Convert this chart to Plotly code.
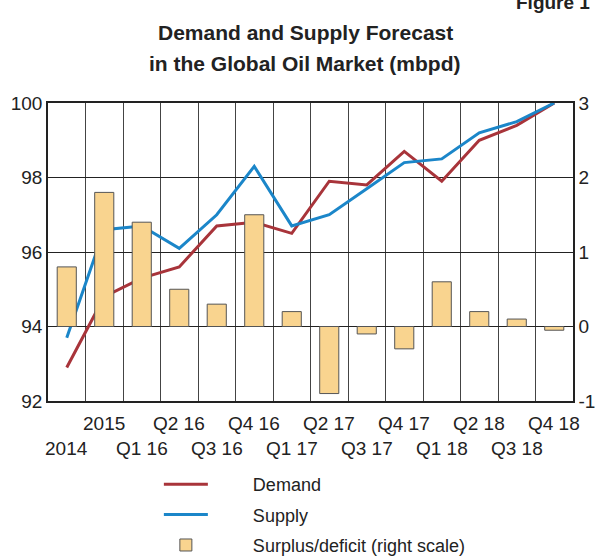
import plotly.graph_objects as go

# quarters / years on the x axis
periods = ['2014', '2015', 'Q1 16', 'Q2 16', 'Q3 16', 'Q4 16', 'Q1 17',
           'Q2 17', 'Q3 17', 'Q4 17', 'Q1 18', 'Q2 18', 'Q3 18', 'Q4 18']

demand = [92.9, 94.8, 95.3, 95.6, 96.7, 96.8, 96.5,
          97.9, 97.8, 98.7, 97.9, 99.0, 99.4, 100.0]
supply = [93.7, 96.6, 96.7, 96.1, 97.0, 98.3, 96.7,
          97.0, 97.7, 98.4, 98.5, 99.2, 99.5, 100.0]
balance = [0.8, 1.8, 1.4, 0.5, 0.3, 1.5, 0.2,
           -0.9, -0.1, -0.3, 0.6, 0.2, 0.1, -0.05]

left_ticks = [92, 94, 96, 98, 100]
right_ticks = [-1, 0, 1, 2, 3]
right_labels = ['-1', '0', '1', '2', '3']

RED = '#a8343a'
BLUE = '#1b86c9'
SAND = '#f9d48f'
INK = '#222222'
FONT = 'Liberation Sans Narrow, Liberation Sans, Arial, sans-serif'
PAD = '\u00a0' * 8  # pushes legend text away from the short symbol

fig = go.Figure()

# surplus / deficit bars on the right scale
fig.add_trace(go.Bar(
    x=periods, y=balance, yaxis='y2', name=PAD + 'Surplus/deficit (right scale)',
    marker=dict(color=SAND, line=dict(color='#555555', width=1)),
    width=0.51, legendrank=3, legendgroup='c',
))
fig.add_trace(go.Scatter(
    x=periods, y=demand, mode='lines', name=PAD + 'Demand',
    line=dict(color=RED, width=3), legendrank=1, legendgroup='a',
))
fig.add_trace(go.Scatter(
    x=periods, y=supply, mode='lines', name=PAD + 'Supply',
    line=dict(color=BLUE, width=3), legendrank=2, legendgroup='b',
))

# two-row category labels (alternating), placed by category index
for i, p in enumerate(periods):
    fig.add_annotation(
        x=i, xref='x', yref='paper', y=-0.074 if i % 2 else -0.161,
        text=p, showarrow=False, yanchor='middle',
        font=dict(size=19, color=INK, family=FONT),
    )

# two-line title
fig.add_annotation(
    text='<b>Demand and Supply Forecast</b>', xref='paper', yref='paper',
    x=0.49, y=1.238, xanchor='center', yanchor='middle', showarrow=False,
    font=dict(size=21, color=INK, family=FONT),
)
fig.add_annotation(
    text='<b>in the Global Oil Market (mbpd)</b>', xref='paper', yref='paper',
    x=0.49, y=1.134, xanchor='center', yanchor='middle', showarrow=False,
    font=dict(size=21, color=INK, family=FONT),
)

# page label in the top-right corner, partly cut off
fig.add_annotation(
    text='<b>Figure 1</b>', xref='paper', yref='paper', x=1.036, y=1.295,
    xanchor='right', yanchor='bottom', showarrow=False,
    font=dict(size=19, color=INK, family=FONT),
)

fig.update_layout(
    width=595, height=557,
    margin=dict(l=48, r=22, t=103, b=156, autoexpand=False),
    paper_bgcolor='white', plot_bgcolor='white',
    font=dict(family=FONT, color=INK, size=19),
    xaxis=dict(
        type='category', tickson='boundaries', showticklabels=False,
        showgrid=True, gridcolor='#444444', gridwidth=1,
        showline=True, linecolor=INK, linewidth=1.5, mirror=True,
        ticks='', range=[-0.5, 13.5], automargin=False,
    ),
    yaxis=dict(
        range=[92, 100], tickvals=left_ticks, showgrid=True,
        gridcolor=INK, gridwidth=1.3, zeroline=False,
        showline=True, linecolor=INK, linewidth=1.5, mirror=True,
        ticks='', automargin=False,
    ),
    yaxis2=dict(
        range=[-1, 3], tickvals=right_ticks, ticktext=right_labels,
        overlaying='y', side='right',
        showgrid=False, zeroline=False, showline=True,
        linecolor=INK, linewidth=1.5, ticks='', automargin=False,
    ),
    showlegend=True,
    legend=dict(
        orientation='v', xref='container', yref='container',
        x=0.267, xanchor='left', y=0.1634, yanchor='top',
        font=dict(size=18, family=FONT, color=INK),
        itemwidth=44, bgcolor='rgba(0,0,0,0)',
        traceorder='grouped', tracegroupgap=4,
    ),
)

# drop the browser's default body margin so the figure fills the window exactly
fig.write_html('out.html', config={'displayModeBar': False},
               post_script="document.body.style.margin = '0';")
